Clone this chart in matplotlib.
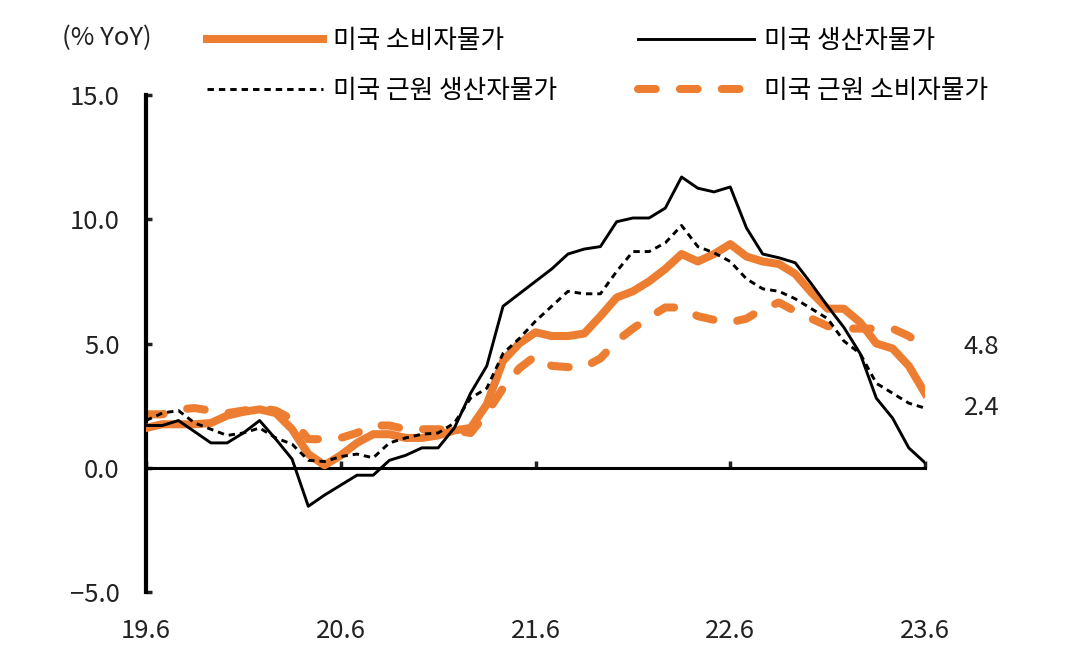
import numpy as np
import matplotlib
matplotlib.use("Agg")
import matplotlib.pyplot as plt

plt.rcParams['font.family'] = ['Noto Sans CJK KR', 'DejaVu Sans']

# monthly YoY values, 2019.06 ~ 2023.06
cpi = [1.6, 1.75, 1.75, 1.75, 1.8, 2.1, 2.25, 2.35, 2.2, 1.55, 0.55, 0.1,
       0.5, 1.0, 1.35, 1.35, 1.2, 1.2, 1.3, 1.5, 1.6, 2.55, 4.3, 5.0,
       5.45, 5.3, 5.3, 5.4, 6.1, 6.85, 7.1, 7.5, 8.0, 8.6, 8.3, 8.6,
       9.0, 8.5, 8.3, 8.2, 7.8, 7.05, 6.4, 6.4, 5.85, 5.0, 4.8, 4.1, 3.0]
ppi = [1.7, 1.7, 1.9, 1.45, 1.0, 1.0, 1.4, 1.9, 1.15, 0.35, -1.55, -1.1,
       -0.7, -0.3, -0.3, 0.3, 0.5, 0.8, 0.8, 1.6, 3.0, 4.1, 6.5, 7.0,
       7.5, 8.0, 8.6, 8.8, 8.9, 9.9, 10.05, 10.05, 10.45, 11.7, 11.25, 11.1,
       11.3, 9.65, 8.6, 8.45, 8.25, 7.4, 6.5, 5.65, 4.6, 2.8, 2.0, 0.8, 0.2]
core_ppi = [1.9, 2.2, 2.3, 1.8, 1.55, 1.3, 1.4, 1.6, 1.2, 0.95, 0.3, 0.25,
            0.45, 0.55, 0.4, 1.0, 1.2, 1.35, 1.4, 1.8, 2.8, 3.2, 4.6, 5.2,
            5.9, 6.5, 7.1, 7.0, 7.0, 7.9, 8.7, 8.7, 9.05, 9.75, 8.9, 8.65,
            8.3, 7.6, 7.2, 7.1, 6.8, 6.4, 6.0, 5.1, 4.6, 3.4, 3.0, 2.6, 2.4]
core_cpi = [2.15, 2.15, 2.35, 2.4, 2.3, 2.2, 2.3, 2.4, 2.3, 1.95, 1.15, 1.15,
            1.2, 1.4, 1.7, 1.7, 1.55, 1.55, 1.55, 1.5, 1.4, 2.2, 3.2, 4.0,
            4.5, 4.1, 4.05, 4.05, 4.4, 5.1, 5.6, 6.05, 6.45, 6.45, 6.1, 5.95,
            5.85, 6.0, 6.4, 6.65, 6.3, 6.0, 5.7, 5.6, 5.6, 5.6, 5.6, 5.3, 4.85]

xtick_labels = ['19.6', '20.6', '21.6', '22.6', '23.6']
end_labels = ['4.8', '2.4']

ORANGE = '#ED7D31'
FS = 18.5
x = np.arange(len(cpi))

fig = plt.figure(figsize=(10.84, 6.7), dpi=100)
ax = fig.add_axes([146 / 1084, 1 - 592 / 670, (925 - 146) / 1084, (592 - 95) / 670])

l_core_cpi, = ax.plot(x, core_cpi, color=ORANGE, lw=5.8, dash_capstyle='round',
                      label='미국 근원 소비자물가', zorder=2)
l_core_cpi.set_dashes((2.2, 3.0))
l_cpi, = ax.plot(x, cpi, color=ORANGE, lw=5.8, solid_joinstyle='round',
                 label='미국 소비자물가', zorder=3)
l_core_ppi, = ax.plot(x, core_ppi, color='black', lw=2.1, label='미국 근원 생산자물가', zorder=4)
l_core_ppi.set_dashes((2.2, 1.7))
l_ppi, = ax.plot(x, ppi, color='black', lw=2.1, label='미국 생산자물가', zorder=5)

ax.set_xlim(0, 48)
ax.set_ylim(-5, 15)
ax.set_yticks([-5, 0, 5, 10, 15])
ax.set_yticklabels([f'{v:.1f}'.replace('-', '\u2212') for v in [-5, 0, 5, 10, 15]])
ax.set_xticks([0, 12, 24, 36, 48])
ax.set_xticklabels(xtick_labels)

for s in ['top', 'right']:
    ax.spines[s].set_visible(False)
ax.spines['left'].set_linewidth(3.0)
ax.spines['bottom'].set_position(('data', 0))
ax.spines['bottom'].set_linewidth(2.2)
ax.tick_params(axis='y', direction='in', length=4, width=2.5, pad=19, labelsize=FS,
               colors='#222222')
ax.tick_params(axis='x', direction='in', length=5, width=2.5, pad=108, labelsize=FS,
               colors='#222222')

# end values
ax.text(48 + 2.4, core_cpi[-1], end_labels[0], fontsize=FS, va='center', ha='left',
        color='#222222', clip_on=False)
ax.text(48 + 2.4, core_ppi[-1], end_labels[1], fontsize=FS, va='center', ha='left',
        color='#222222', clip_on=False)

fig.text(107 / 1084, 1 - 38 / 670, '(% YoY)', fontsize=FS, ha='center', va='center',
         color='#222222')

# column-wise fill: col 1 = CPI, core PPI ; col 2 = PPI, core CPI
handles = [l_cpi, l_core_ppi, l_ppi, l_core_cpi]
fig.legend(handles=handles, labels=[h.get_label() for h in handles], ncol=2,
           loc='upper left', bbox_to_anchor=(207 / 1084, 1 - 28 / 670),
           frameon=False, fontsize=FS, handlelength=4.5, handletextpad=0.4,
           columnspacing=3.15, labelspacing=0.95, borderpad=0, borderaxespad=0)

fig.savefig('out.png', dpi=100)
